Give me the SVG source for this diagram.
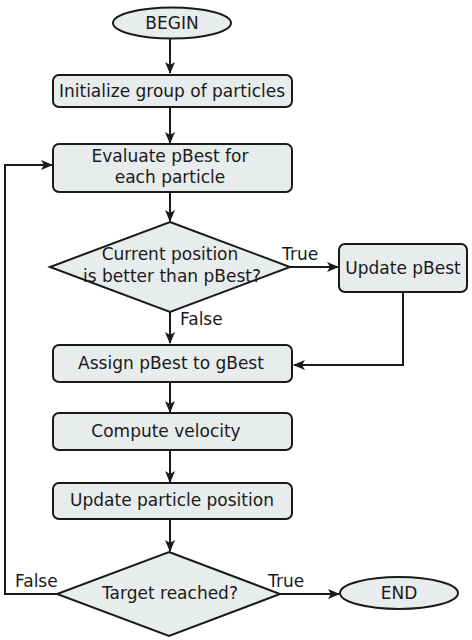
<svg xmlns="http://www.w3.org/2000/svg" width="472" height="640" viewBox="0 0 472 640">
<style>
.n{fill:#e8ecec;stroke:#1a1a1a;stroke-width:2}
.t{font-family:"DejaVu Sans",sans-serif;font-size:17px;fill:#1a1a1a;text-anchor:middle;dominant-baseline:central}
.l{font-family:"DejaVu Sans",sans-serif;font-size:17px;fill:#1a1a1a;dominant-baseline:central}
.c{fill:none;stroke:#1a1a1a;stroke-width:2}
</style>
<defs>
<marker id="a" viewBox="0 0 12 10" refX="11" refY="5" markerWidth="13" markerHeight="10" markerUnits="userSpaceOnUse" orient="auto">
<path d="M0,0 L12,5 L0,10 L3,5 Z" fill="#1a1a1a"/>
</marker>
</defs>
<rect width="472" height="640" fill="#fff"/>
<g id="connectors">
<path class="c" d="M170,38 V73" marker-end="url(#a)"/>
<path class="c" d="M170,107 V143" marker-end="url(#a)"/>
<path class="c" d="M170,192 V221" marker-end="url(#a)"/>
<path class="c" d="M290,267 H338" marker-end="url(#a)"/>
<path class="c" d="M170,312 V343" marker-end="url(#a)"/>
<path class="c" d="M403,292 V365 H294" marker-end="url(#a)"/>
<path class="c" d="M170,382 V412" marker-end="url(#a)"/>
<path class="c" d="M170,450 V482" marker-end="url(#a)"/>
<path class="c" d="M170,519 V551" marker-end="url(#a)"/>
<path class="c" d="M57,594 H5 V165 H52" marker-end="url(#a)"/>
<path class="c" d="M280,594 H339" marker-end="url(#a)"/>
<text class="l" x="282" y="254">True</text>
<text class="l" x="180" y="319">False</text>
<text class="l" x="15" y="581">False</text>
<text class="l" x="268" y="581">True</text>
</g>
<g id="begin"><ellipse class="n" cx="172" cy="23" rx="59" ry="15.5"/><text class="t" x="172" y="23">BEGIN</text></g>
<g id="init"><rect class="n" x="53" y="75" width="239" height="32" rx="6"/><text class="t" x="172" y="91">Initialize group of particles</text></g>
<g id="evaluate"><rect class="n" x="53" y="144" width="239" height="48" rx="6"/><text class="t" x="170" y="156">Evaluate pBest for</text><text class="t" x="170" y="177">each particle</text></g>
<g id="check"><polygon class="n" points="170,222 290,267 170,312 50,267"/><text class="t" x="170" y="254">Current position</text><text class="t" x="172" y="276">is better than pBest?</text></g>
<g id="update-pbest"><rect class="n" x="339" y="244" width="128" height="48" rx="6"/><text class="t" x="403" y="268">Update pBest</text></g>
<g id="assign"><rect class="n" x="53" y="345" width="239" height="37" rx="6"/><text class="t" x="171" y="363">Assign pBest to gBest</text></g>
<g id="velocity"><rect class="n" x="53" y="413" width="239" height="37" rx="6"/><text class="t" x="166" y="431">Compute velocity</text></g>
<g id="position"><rect class="n" x="53" y="483" width="239" height="36" rx="6"/><text class="t" x="172" y="500">Update particle position</text></g>
<g id="target"><polygon class="n" points="169,552 280,594 169,636 57,594"/><text class="t" x="170" y="593">Target reached?</text></g>
<g id="end"><ellipse class="n" cx="399" cy="593" rx="59" ry="16"/><text class="t" x="399" y="593">END</text></g>
</svg>
